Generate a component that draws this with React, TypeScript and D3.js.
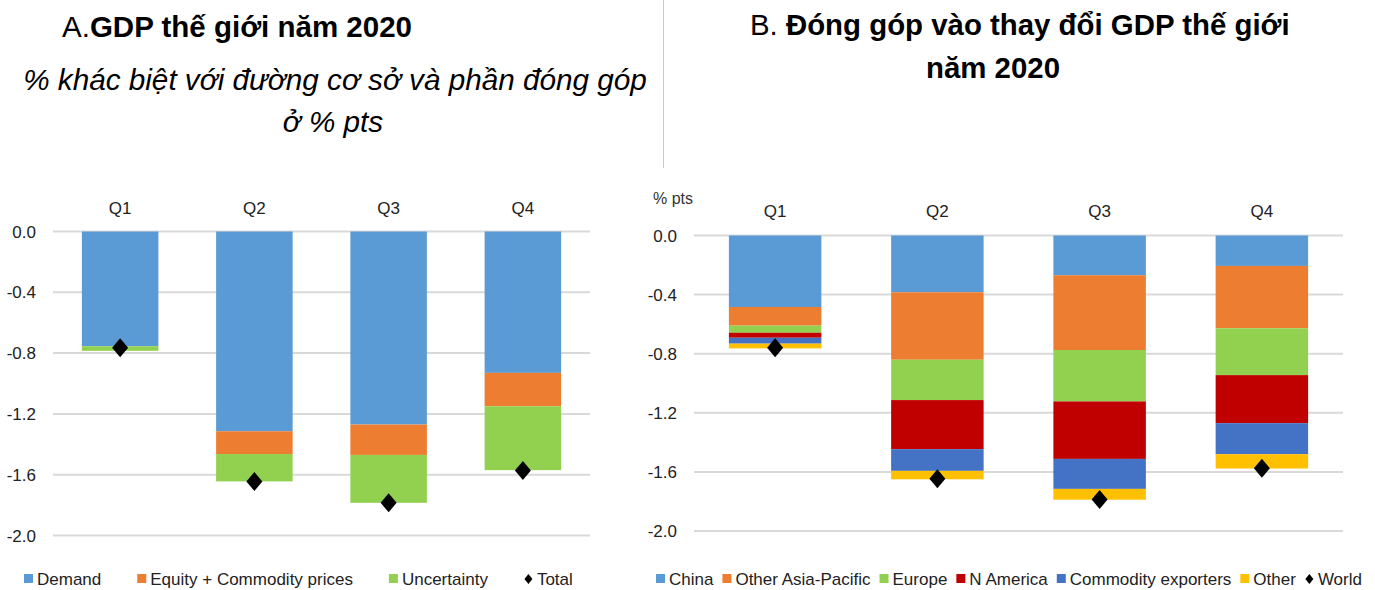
import React, { useRef, useEffect } from 'react'
import * as d3 from 'd3'

const quarters = ['Q1', 'Q2', 'Q3', 'Q4']
const yTicks = [0, -0.4, -0.8, -1.2, -1.6, -2.0]

// panel A: % difference from baseline, contributions in % pts
const driverNames = ['Demand', 'Equity + Commodity prices', 'Uncertainty']
const demand = [-0.755, -1.314, -1.27, -0.93]
const equityCommodity = [0, -0.15, -0.2, -0.22]
const uncertainty = [-0.03, -0.18, -0.315, -0.42]
const total = [-0.765, -1.645, -1.785, -1.572]

// panel B: contributions by region
const regionNames = ['China', 'Other Asia-Pacific', 'Europe', 'N America', 'Commodity exporters', 'Other']
const china = [-0.484, -0.384, -0.269, -0.206]
const otherAsia = [-0.126, -0.457, -0.506, -0.422]
const europe = [-0.048, -0.273, -0.348, -0.317]
const nAmerica = [-0.034, -0.332, -0.389, -0.325]
const commodityExp = [-0.04, -0.147, -0.203, -0.21]
const otherRegions = [-0.032, -0.057, -0.073, -0.097]
const world = [-0.76, -1.647, -1.786, -1.575]

const colA = ['#5b9bd5', '#ed7d31', '#92d050']
const colB = ['#5b9bd5', '#ed7d31', '#92d050', '#c00000', '#4472c4', '#ffc000']

const FONT = '"Liberation Sans", Arial, sans-serif'

function drawPanel(svg, opt) {
  const { series, names, colors, totals, totalName, x0, x1, y0, y1, labelY, legendY, legendX, legendGap } = opt

  const rows = quarters.map((q, i) => {
    const r = { q }
    names.forEach((n, j) => { r[n] = series[j][i] })
    return r
  })
  const stacked = d3.stack().keys(names).offset(d3.stackOffsetDiverging)(rows)

  const x = d3.scaleBand().domain(quarters).range([x0, x1]).paddingInner(0.43).paddingOuter(0.215)
  const y = d3.scaleLinear().domain([0, -2]).range([y0, y1])

  const g = svg.append('g')

  g.selectAll('.grid').data(yTicks).enter().append('line')
    .attr('x1', x0).attr('x2', x1)
    .attr('y1', d => y(d)).attr('y2', d => y(d))
    .attr('stroke', '#d9d9d9').attr('stroke-width', 2)

  g.selectAll('.ylab').data(yTicks).enter().append('text')
    .attr('x', x0 - 17).attr('y', d => y(d) + 6)
    .attr('text-anchor', 'end')
    .attr('font-size', 17).attr('fill', '#222')
    .text(d => d.toFixed(1))

  g.selectAll('.qlab').data(quarters).enter().append('text')
    .attr('x', d => x(d) + x.bandwidth() / 2).attr('y', labelY)
    .attr('text-anchor', 'middle')
    .attr('font-size', 17).attr('fill', '#222')
    .text(d => d)

  stacked.forEach((s, j) => {
    g.selectAll('.b' + j).data(s).enter().append('rect')
      .attr('x', d => x(d.data.q))
      .attr('width', x.bandwidth())
      .attr('y', d => Math.min(y(d[0]), y(d[1])))
      .attr('height', d => Math.abs(y(d[1]) - y(d[0])))
      .attr('fill', colors[j])
  })

  const diamond = (cx, cy, w, h) => `M${cx},${cy - h}L${cx + w},${cy}L${cx},${cy + h}L${cx - w},${cy}Z`

  g.selectAll('.tot').data(totals).enter().append('path')
    .attr('d', (d, i) => diamond(x(quarters[i]) + x.bandwidth() / 2, y(d), 8, 9.5))
    .attr('fill', '#000')

  // legend
  let lx = legendX
  const items = names.map((n, j) => ({ n, c: colors[j], diamond: false }))
  items.push({ n: totalName, c: '#000', diamond: true })
  items.forEach(it => {
    if (it.diamond) {
      g.append('path').attr('d', diamond(lx + 4.5, legendY - 6, 4, 5)).attr('fill', '#000')
    } else {
      g.append('rect').attr('x', lx).attr('y', legendY - 11).attr('width', 9).attr('height', 9).attr('fill', it.c)
    }
    const t = g.append('text')
      .attr('x', lx + 13).attr('y', legendY)
      .attr('font-size', 17).attr('fill', '#222')
      .text(it.n)
    const w = (t.node() as SVGTextElement).getComputedTextLength()
    lx += 13 + w + legendGap
  })
}

export default function App() {
  const ref = useRef(null)

  useEffect(() => {
    const svg = d3.select(ref.current)
    svg.selectAll('*').remove()
    svg.attr('font-family', FONT)

    // titles
    const tA = svg.append('text').attr('x', 62).attr('y', 37).attr('font-size', 29.5).attr('fill', '#000')
    tA.append('tspan').text('A.')
    tA.append('tspan').attr('font-weight', 'bold').text('GDP thế giới năm 2020')

    svg.append('text').attr('x', 335).attr('y', 90).attr('text-anchor', 'middle')
      .attr('font-size', 29.7).attr('font-style', 'italic').attr('fill', '#000')
      .text('% khác biệt với đường cơ sở và phần đóng góp')
    svg.append('text').attr('x', 333).attr('y', 132).attr('text-anchor', 'middle')
      .attr('font-size', 29.7).attr('font-style', 'italic').attr('fill', '#000')
      .text('ở % pts')

    const tB = svg.append('text').attr('x', 750).attr('y', 35).attr('font-size', 29.4).attr('fill', '#000')
    tB.append('tspan').text('B. ')
    tB.append('tspan').attr('font-weight', 'bold').text('Đóng góp vào thay đổi GDP thế giới')
    svg.append('text').attr('x', 993).attr('y', 78).attr('text-anchor', 'middle')
      .attr('font-size', 29.4).attr('font-weight', 'bold').attr('fill', '#000')
      .text('năm 2020')

    svg.append('line').attr('x1', 663.5).attr('x2', 663.5).attr('y1', 0).attr('y2', 168)
      .attr('stroke', '#c8c8c8').attr('stroke-width', 1)

    svg.append('text').attr('x', 653).attr('y', 204).attr('font-size', 16).attr('fill', '#333').text('% pts')

    drawPanel(svg, {
      series: [demand, equityCommodity, uncertainty],
      names: driverNames, colors: colA, totals: total, totalName: 'Total',
      x0: 53, x1: 590, y0: 231.5, y1: 535.5, labelY: 214,
      legendY: 585, legendX: 24, legendGap: 36
    })

    drawPanel(svg, {
      series: [china, otherAsia, europe, nAmerica, commodityExp, otherRegions],
      names: regionNames, colors: colB, totals: world, totalName: 'World',
      x0: 694, x1: 1343, y0: 235.5, y1: 531, labelY: 217,
      legendY: 585, legendX: 656, legendGap: 9
    })
  }, [])

  return (
    <svg ref={ref} width={1375} height={590} style={{ position: 'absolute', left: 0, top: 0, background: '#fff' }} />
  )
}
